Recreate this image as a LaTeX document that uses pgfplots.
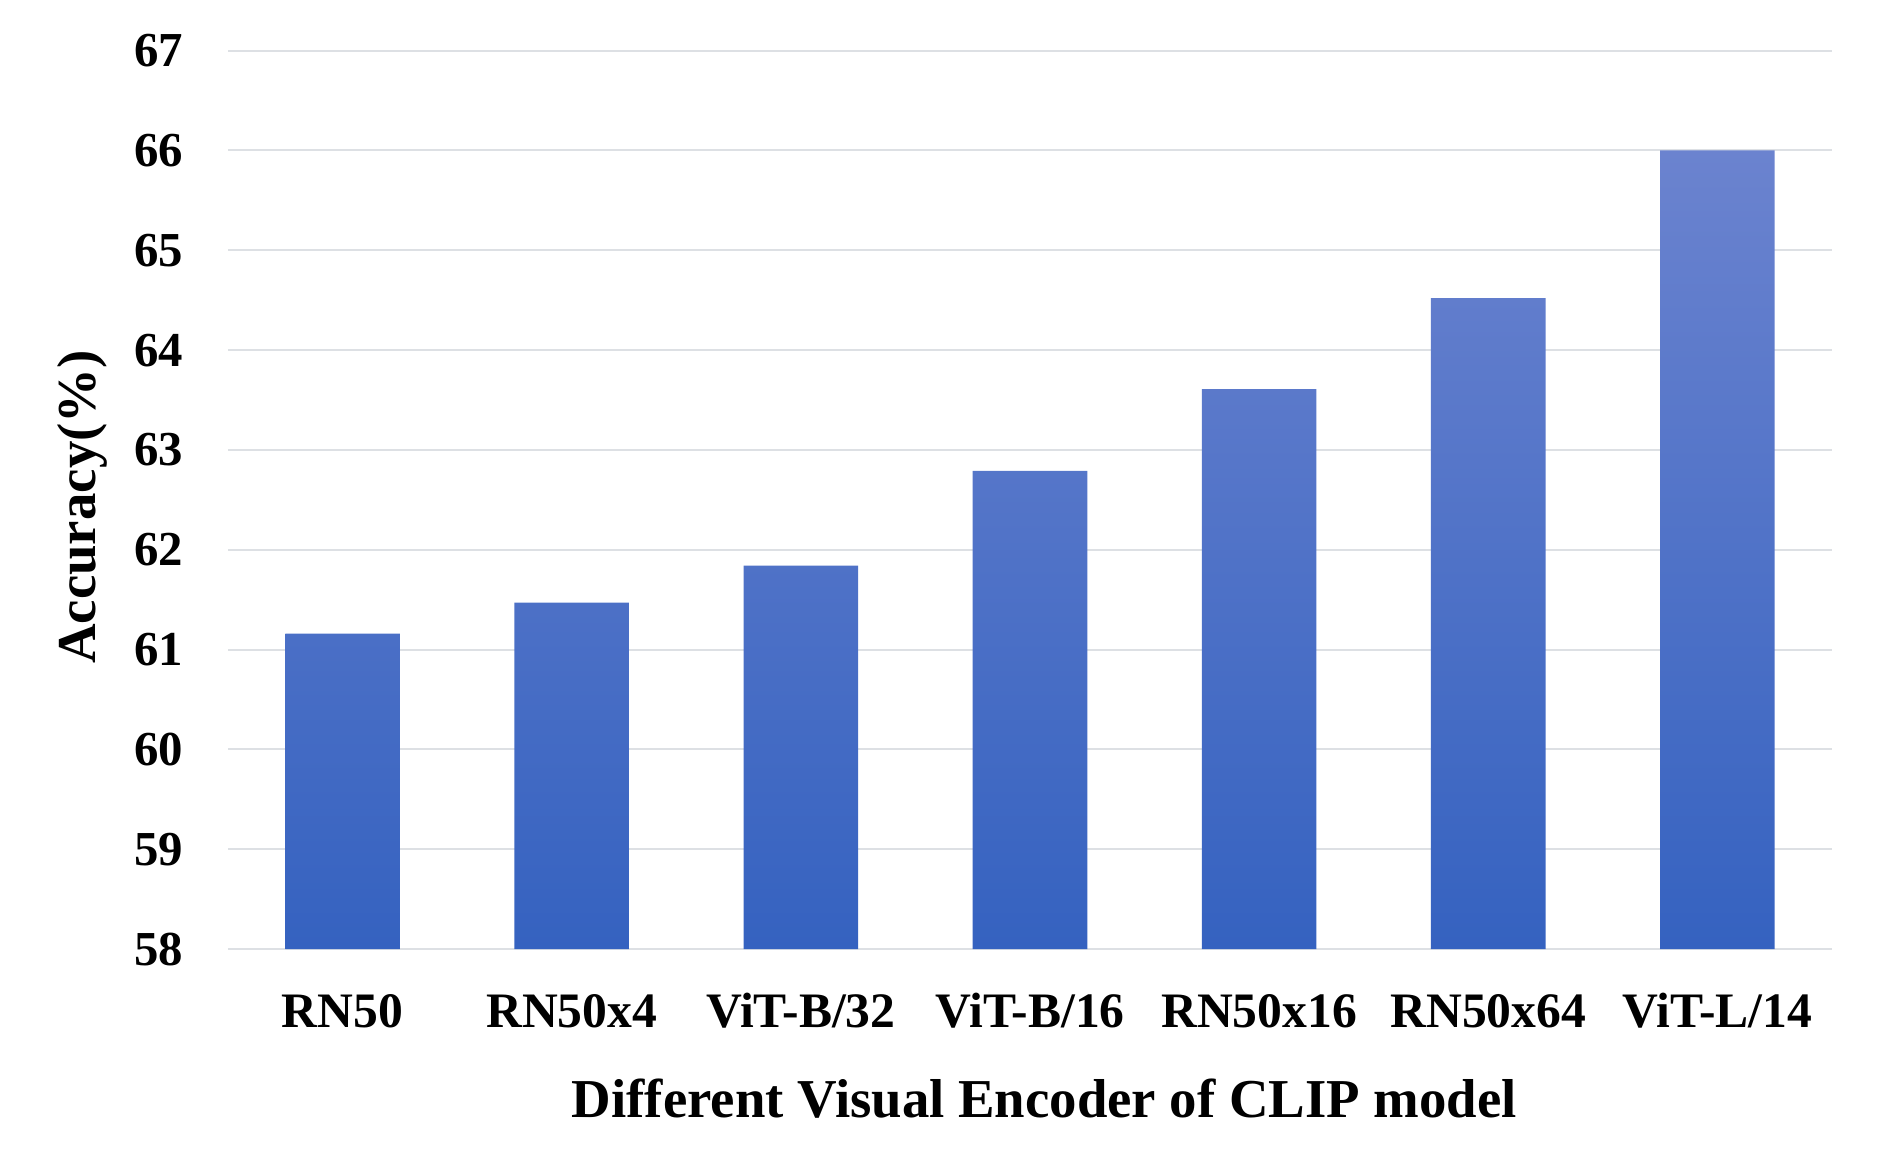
\documentclass[border=0pt]{standalone}
\usepackage{pgfplots}
\pgfplotsset{compat=1.18}
\usepackage{fontspec}
\setmainfont{Liberation Serif}
\definecolor{gridc}{HTML}{DDE0E4}
\definecolor{bartop}{HTML}{6B83CF}
\definecolor{barmid}{HTML}{4676D0}
\definecolor{barbot}{HTML}{3562C0}
\begin{document}
\begin{tikzpicture}
\begin{axis}[
  at={(0,0)}, anchor=south west,
  scale only axis,
  width=401pt, height=224.6pt,
  xmin=-0.5, xmax=6.5,
  ymin=58, ymax=67,
  ytick={58,59,...,67},
  xtick={0,1,2,3,4,5,6},
  xticklabels={RN50,RN50x4,ViT-B/32,ViT-B/16,RN50x16,RN50x64,ViT-L/14},
  axis line style={draw=none},
  major tick length=0pt,
  ymajorgrids,
  grid style={gridc, line width=0.5pt},
  /pgf/number format/assume math mode=true,
  tick label style={font=\fontsize{12.4}{14}\selectfont\bfseries},
  yticklabel style={anchor=east, inner sep=0pt, xshift=-11pt, font=\fontsize{12.2}{14}\selectfont\bfseries},
  xticklabel style={anchor=base, inner sep=0pt, yshift=-19.5pt},
  xlabel={Different Visual Encoder of CLIP model},
  ylabel={Accuracy(\%)},
  label style={font=\fontsize{13.7}{15}\selectfont\bfseries},
  xlabel style={at={(axis description cs:0.509,-0.1881)}, anchor=base, inner sep=0pt},
  ylabel style={at={(axis description cs:-0.0829,0.492)}, anchor=base, inner sep=0pt, rotate=0},
  bar width=0.5,
]
\addplot[ybar, draw=none, top color=bartop, middle color=barmid, bottom color=barbot]
  coordinates {(0,61.16) (1,61.47) (2,61.84) (3,62.79) (4,63.61) (5,64.52) (6,66.0)};
\end{axis}
\pgfresetboundingbox
\path (-57pt,-55.5pt) rectangle (414pt,237.25pt);
\end{tikzpicture}
\end{document}
